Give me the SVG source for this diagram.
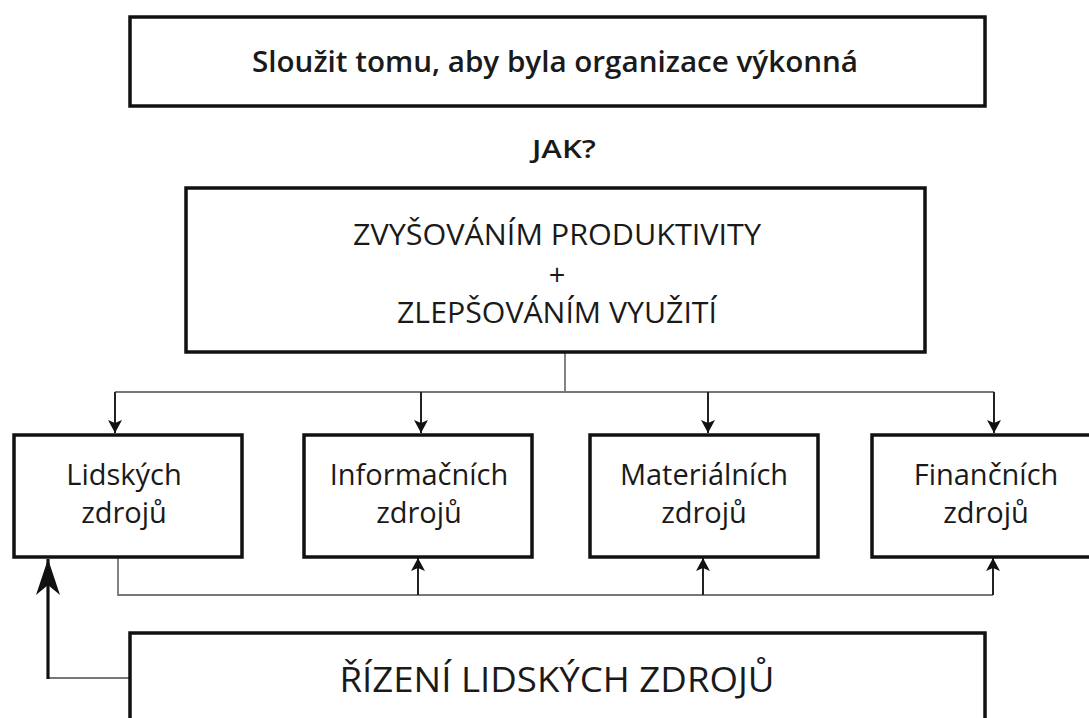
<svg xmlns="http://www.w3.org/2000/svg" width="1089" height="718" viewBox="0 0 1089 718">
<style>
.box{fill:#fff;stroke:#111;stroke-width:3.5}
.t{font-family:"Open Sans","Liberation Sans",sans-serif;fill:#1a1a1a;text-anchor:middle}
.thin{fill:none;stroke:#777;stroke-width:1.8}
.sh{fill:none;stroke:#222;stroke-width:2}
.thick{fill:none;stroke:#111;stroke-width:3.2}
</style>
<defs>
<marker id="a" markerUnits="userSpaceOnUse" markerWidth="13" markerHeight="14" refX="13" refY="7" orient="auto-start-reverse" viewBox="0 0 13 14">
<path d="M0,0 L13,7 L0,14 L3,7 Z" fill="#111"/>
</marker>
<marker id="big" markerUnits="userSpaceOnUse" markerWidth="36" markerHeight="24" refX="36" refY="12" orient="auto-start-reverse" viewBox="0 0 36 24">
<path d="M0,0 L36,12 L0,24 L10,12 Z" fill="#111"/>
</marker>
</defs>
<rect width="1089" height="718" fill="#fff"/>
<g id="connectors">
<path class="thin" d="M565,353 V392 M115,392 H994"/>
<path class="sh" d="M115,392 V433" marker-end="url(#a)"/>
<path class="sh" d="M421,392 V433" marker-end="url(#a)"/>
<path class="sh" d="M708,392 V433" marker-end="url(#a)"/>
<path class="sh" d="M994,392 V433" marker-end="url(#a)"/>
<path class="thin" d="M118,558 V595 H993"/>
<path class="sh" d="M418,595 V558" marker-end="url(#a)"/>
<path class="sh" d="M703,595 V558" marker-end="url(#a)"/>
<path class="sh" d="M993,595 V558" marker-end="url(#a)"/>
<path class="thin" d="M130,678 H48"/>
<path class="thick" d="M48,679 V559" marker-end="url(#big)"/>
</g>
<g id="goal">
<rect class="box" x="130" y="17" width="855" height="89"/>
<text class="t" x="555" y="72" font-size="28" font-weight="600" textLength="606" lengthAdjust="spacingAndGlyphs">Sloužit tomu, aby byla organizace výkonná</text>
</g>
<g id="jak">
<text class="t" x="564" y="158" font-size="26" font-weight="600" textLength="64" lengthAdjust="spacingAndGlyphs">JAK?</text>
</g>
<g id="how">
<rect class="box" x="186" y="188" width="739" height="164"/>
<text class="t" x="557" y="245" font-size="29" textLength="408" lengthAdjust="spacingAndGlyphs">ZVYŠOVÁNÍM PRODUKTIVITY</text>
<text class="t" x="557" y="285" font-size="29">+</text>
<text class="t" x="557" y="323" font-size="29" textLength="320" lengthAdjust="spacingAndGlyphs">ZLEPŠOVÁNÍM VYUŽITÍ</text>
</g>
<g id="lidske">
<rect class="box" x="14" y="435" width="228" height="122"/>
<text class="t" x="124" y="485" font-size="29">Lidských</text>
<text class="t" x="124" y="523" font-size="29">zdrojů</text>
</g>
<g id="informacni">
<rect class="box" x="304" y="435" width="228" height="122"/>
<text class="t" x="419" y="485" font-size="29">Informačních</text>
<text class="t" x="419" y="523" font-size="29">zdrojů</text>
</g>
<g id="materialni">
<rect class="box" x="590" y="435" width="228" height="122"/>
<text class="t" x="704" y="485" font-size="29">Materiálních</text>
<text class="t" x="704" y="523" font-size="29">zdrojů</text>
</g>
<g id="financni">
<rect class="box" x="872" y="435" width="240" height="122"/>
<text class="t" x="986" y="485" font-size="29">Finančních</text>
<text class="t" x="986" y="523" font-size="29">zdrojů</text>
</g>
<g id="rizeni">
<rect class="box" x="130" y="633" width="855" height="110"/>
<text class="t" x="557" y="692" font-size="34" textLength="435" lengthAdjust="spacingAndGlyphs">ŘÍZENÍ LIDSKÝCH ZDROJŮ</text>
</g>
</svg>
